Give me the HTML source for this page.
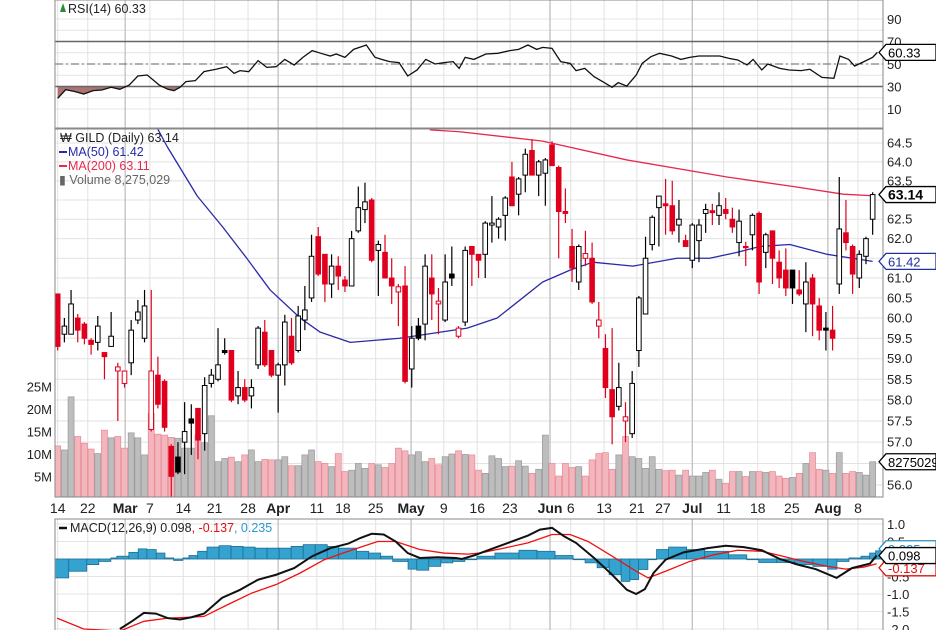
<!DOCTYPE html>
<html><head><meta charset="utf-8">
<style>
html,body{margin:0;padding:0;background:#fff;}
svg{display:block;font-family:"Liberation Sans",sans-serif;}
</style></head>
<body>
<svg id="chart" width="936" height="630" viewBox="0 0 936 630" xmlns="http://www.w3.org/2000/svg">
  <defs>
    <clipPath id="clipMain"><rect x="55" y="128" width="828" height="369"/></clipPath>
    <clipPath id="clipRsi"><rect x="55" y="0" width="828" height="129"/></clipPath>
    <clipPath id="clipMacd"><rect x="55" y="519" width="828" height="111"/></clipPath>
  </defs>
  <rect x="0" y="0" width="936" height="630" fill="#fff"/>
  <g id="grid"></g>
  <g id="rsi" clip-path="url(#clipRsi)"></g>
  <g id="vol" clip-path="url(#clipMain)"></g>
  <g id="ma" clip-path="url(#clipMain)"></g>
  <g id="candles" clip-path="url(#clipMain)"></g>
  <g id="macd" clip-path="url(#clipMacd)"></g>
  <g id="frame"></g>
  <g id="labels"></g>
</svg>
<script>
// ---------- data ----------
const opens=[60.6,59.6,59.6,60.0,59.85,59.45,59.4,59.15,59.3,58.7,58.4,58.9,59.95,59.5,57.3,58.6,58.45,56.9,56.65,57.0,57.55,57.8,57.2,58.4,58.5,59.2,59.2,58.1,58.3,58.1,58.85,59.65,59.2,58.6,58.85,59.55,59.2,59.95,60.5,62.05,61.6,60.85,61.3,60.95,60.8,62.2,62.75,63.0,61.7,61.65,61.0,60.65,60.8,58.75,59.8,59.85,61.0,60.35,59.95,61.1,59.55,59.9,61.8,61.6,61.6,62.35,62.3,62.6,63.6,63.15,63.65,64.3,63.65,63.7,64.45,63.85,62.7,61.8,60.9,61.5,61.5,59.8,59.25,58.25,57.85,57.5,57.2,59.2,60.1,61.85,62.8,62.9,62.85,62.35,61.95,61.45,61.95,62.65,62.72,62.6,62.75,62.5,61.9,61.8,62.1,62.65,61.65,62.2,61.4,61.2,61.2,60.7,60.35,61.0,60.3,59.75,59.7,60.85,62.15,61.8,61.0,61.55,62.5];
const highs=[60.6,60.0,60.7,60.1,59.9,59.5,60.05,59.15,60.15,58.9,58.7,59.95,60.45,60.7,60.7,59.05,58.5,56.95,57.0,57.95,57.9,57.8,58.55,58.75,59.75,59.5,59.2,58.7,58.5,58.5,59.8,59.95,59.2,58.9,60.08,60.0,60.3,60.8,62.1,62.3,61.6,61.6,61.55,61.05,62.2,63.35,63.45,63.05,61.95,62.1,61.5,60.85,61.3,59.8,60.0,61.6,61.6,60.75,61.6,61.8,59.8,61.8,61.8,61.6,62.45,63.1,62.55,63.1,64.0,63.6,64.35,64.6,64.05,64.1,64.55,63.9,63.3,62.25,61.85,62.2,61.9,60.4,59.6,59.75,58.9,57.95,58.7,60.55,62.05,62.6,63.1,63.55,63.5,63.0,62.1,62.4,62.5,62.9,62.9,63.2,63.05,62.8,62.75,61.92,62.65,62.7,62.15,62.2,61.7,61.75,61.2,61.2,61.4,61.1,60.5,60.15,60.3,63.6,63.0,61.85,61.7,62.05,63.2];
const lows=[59.2,59.4,59.6,59.4,59.35,59.1,59.2,58.5,59.3,57.5,58.3,58.6,59.85,59.4,57.25,57.8,57.25,55.6,56.25,56.25,56.7,56.6,56.8,58.3,58.45,59.1,57.95,57.9,57.95,57.8,58.75,58.8,58.55,57.7,58.35,58.85,59.15,59.7,60.4,61.05,60.4,60.5,60.7,60.65,60.8,62.15,62.4,61.4,60.55,61.0,60.35,59.8,58.4,58.3,59.45,59.45,59.95,59.6,59.9,60.8,59.5,59.8,60.8,61.0,61.0,61.9,62.0,61.95,62.85,62.6,63.2,63.65,63.1,62.85,63.9,61.5,62.4,60.9,60.7,61.3,60.35,59.5,58.05,56.95,57.75,57.0,57.1,58.8,60.1,61.7,61.8,62.1,62.1,61.9,61.8,61.25,61.4,62.15,62.35,62.35,62.5,62.15,61.55,61.3,61.7,60.6,61.25,60.85,60.75,60.55,60.35,60.55,59.65,59.55,59.45,59.2,59.2,60.6,61.7,60.6,60.75,61.35,62.1];
const closes=[59.3,59.8,60.35,59.7,59.5,59.35,59.8,59.05,59.55,58.8,58.7,59.7,60.15,60.3,58.7,57.9,57.35,56.2,56.3,57.25,57.45,57.05,58.35,58.6,58.85,59.15,58.0,58.3,58.0,58.3,59.75,58.85,58.6,58.85,59.9,58.9,60.05,60.2,61.55,61.1,60.85,61.3,61.05,60.8,62.0,62.8,62.95,61.45,61.85,61.0,60.8,60.78,58.45,59.5,59.5,61.3,60.6,60.42,60.9,61.0,59.75,61.7,61.6,61.45,62.4,62.4,62.5,63.05,62.85,63.55,64.2,63.65,64.0,64.05,63.9,62.7,62.65,61.25,61.8,61.62,60.4,59.95,58.3,57.6,58.3,57.6,58.4,60.5,61.5,62.55,63.1,62.85,62.2,62.5,61.8,62.35,62.35,62.75,62.67,62.85,62.65,62.3,62.45,61.78,62.6,60.9,62.1,61.5,61.0,60.75,60.75,60.6,60.9,60.35,59.7,59.7,59.5,62.25,61.9,61.1,61.6,62.0,63.14];
const volumes=[11.8,10.9,22.7,13.9,12.4,11.1,10.1,15.3,13.6,13.9,11.3,14.7,13.6,9.8,19.0,14.4,14.2,13.7,13.5,11.3,11.3,14.2,12.5,18.5,8.3,9.0,9.3,8.3,9.8,10.9,8.3,8.8,8.7,8.7,9.4,7.4,7.4,9.8,10.9,8.3,7.9,7.2,10.1,6.1,6.4,7.9,6.8,7.9,7.6,7.0,7.9,11.3,10.7,9.8,10.5,8.3,9.0,7.6,9.4,10.0,10.7,9.9,9.8,6.4,5.7,9.6,9.0,7.2,7.3,8.5,7.3,5.7,6.6,14.2,7.9,5.1,7.9,7.0,7.2,5.1,8.7,10.1,10.3,6.6,9.8,13.9,9.4,9.0,6.8,9.4,6.6,6.3,6.4,5.3,6.4,5.1,5.1,5.9,6.4,4.4,3.5,6.1,6.1,5.0,6.1,6.1,5.9,6.1,5.1,4.6,4.8,5.7,7.9,10.3,6.6,6.4,5.7,10.3,5.7,6.1,5.9,5.3,8.275];
const ma50Idx=[14.6,16.4,20.9,24.7,28.3,31.8,36.3,39.3,43.8,51.2,61.3,65.8,72.6,76.7,80.1,86.1,92.7,97.6,101.7,105.1,109.6,115.2,122];
const ma50Val=[65.0,64.4,63.1,62.3,61.5,60.7,60.0,59.65,59.4,59.5,59.75,60.0,60.9,61.2,61.4,61.3,61.5,61.5,61.65,61.8,61.85,61.6,61.42];
const ma200Idx=[55.7,60.2,72.6,85.2,100.2,110.1,117.6,122];
const ma200Val=[64.85,64.8,64.55,64.05,63.6,63.35,63.15,63.11];
const rsiIdx=[0,1.2,2.6,3.9,5.3,6.6,8.0,9.3,10.7,12.0,13.4,14.3,15.2,16.5,17.4,18.3,19.2,20.6,21.9,23.7,25.3,26.4,27.3,28.6,30.0,31.3,32.7,34.0,35.4,36.7,38.1,39.4,40.8,41.7,43.0,44.3,46.2,47.5,48.8,49.7,51.1,52.4,53.8,55.1,56.5,57.8,59.2,60.1,61.0,62.3,64.1,65.9,67.7,69.0,70.4,71.7,72.6,74.0,75.3,76.7,77.6,78.9,80.3,81.6,83.0,83.9,85.2,86.6,87.5,88.8,90.1,91.9,93.3,94.6,96.0,97.3,99.1,100.5,101.8,103.2,104.1,105.4,106.3,108.1,109.5,111.3,112.6,114.4,116.2,117.1,118.4,119.3,120.7,122.0,122.7];
const rsiVal=[19.5,27.2,25.4,23.3,26.3,26.9,29.3,27.5,31.3,39.3,40.2,35.8,31.3,27.5,26.3,29.3,34.3,35.2,43.2,45.3,47.6,41.7,44.1,43.2,53.0,47.0,47.6,54.1,49.1,55.9,61.9,59.5,57.1,58.9,55.9,63.0,66.9,55.9,53.6,52.1,51.2,39.3,44.7,54.1,50.0,51.2,52.1,46.1,55.9,54.1,58.9,59.5,61.9,63.0,66.9,63.0,64.8,63.9,52.1,50.6,44.1,46.1,38.7,34.3,29.3,33.4,30.4,40.2,50.6,56.5,59.5,57.1,54.1,55.9,57.1,57.1,57.1,55.0,53.6,49.1,54.1,44.7,50.0,46.1,44.7,44.1,45.3,38.1,37.3,57.1,54.1,48.2,52.1,55.9,60.33];
const macdIdx=[9.3,11.1,12.9,14.7,16.5,18.3,20.1,21.9,24.6,27.3,30.0,32.7,35.4,38.1,40.8,43.5,45.3,47.0,48.8,50.6,52.4,54.2,56.9,59.6,60.5,62.3,65.0,67.7,70.4,72.2,74.0,75.8,77.6,80.3,83.0,85.2,86.6,87.9,89.2,91.0,93.7,97.3,100.0,102.7,105.4,108.1,110.8,113.5,116.6,118.9,121.6,122.6];
const macdVal=[-2.0,-1.78,-1.54,-1.56,-1.69,-1.73,-1.66,-1.56,-1.11,-0.88,-0.59,-0.45,-0.26,0.08,0.31,0.44,0.60,0.72,0.70,0.50,0.17,0.03,0.05,0.03,0.0,0.10,0.29,0.48,0.67,0.84,0.89,0.65,0.46,0.03,-0.45,-0.88,-1.0,-0.86,-0.40,-0.02,0.19,0.31,0.38,0.34,0.25,0.0,-0.16,-0.29,-0.54,-0.26,-0.13,0.098];
const sigIdx=[-0.1,3.9,9.3,12.9,16.5,20.1,21.9,25.5,29.1,32.7,36.3,39.9,43.5,47.9,50.6,54.2,57.8,61.4,63.2,66.8,70.4,74.0,76.7,79.4,83.0,86.6,88.4,91.0,94.6,98.2,101.8,105.4,108.1,111.7,115.3,118.0,120.7,122.6];
const sigVal=[-1.69,-2.0,-2.06,-1.78,-1.69,-1.66,-1.64,-1.30,-0.97,-0.73,-0.40,-0.02,0.22,0.50,0.50,0.27,0.17,0.14,0.17,0.31,0.46,0.70,0.70,0.50,0.08,-0.35,-0.54,-0.35,-0.07,0.12,0.25,0.22,0.10,-0.07,-0.21,-0.29,-0.23,-0.137];
const histIdx=[-0.1,2.1,4.8,6.6,8.4,9.3,11.1,12.5,13.8,15.2,16.5,17.8,19.2,20.1,21.4,22.8,24.6,26.4,28.2,30.0,31.8,33.6,35.4,37.2,39.0,40.8,42.5,45.2,47.0,48.8,50.6,52.9,54.2,56.0,57.8,59.6,61.4,63.2,65.9,69.5,72.2,74.9,77.6,79.4,81.2,83.0,84.8,86.1,87.4,88.8,90.1,91.9,94.6,97.3,100.9,103.6,105.4,108.1,110.8,113.5,115.7,117.1,118.9,120.7,122.0,122.9];
const histVal=[-0.54,-0.35,-0.16,-0.07,0.03,0.08,0.19,0.29,0.27,0.17,0.03,-0.04,0.03,0.10,0.22,0.34,0.38,0.36,0.34,0.31,0.31,0.31,0.36,0.41,0.41,0.36,0.31,0.22,0.17,0.08,-0.07,-0.29,-0.32,-0.21,-0.11,-0.07,-0.02,0.08,0.17,0.25,0.22,0.10,-0.02,-0.11,-0.25,-0.45,-0.64,-0.59,-0.30,-0.02,0.27,0.34,0.27,0.22,0.12,-0.02,-0.10,-0.10,-0.16,-0.21,-0.29,-0.07,0.03,0.08,0.17,0.235];
const dateLabels=["14","22","Mar","7","14","21","28","Apr","11","18","25","May","9","16","23","Jun","6","13","21","27","Jul","11","18","25","Aug","8"];
const dateIdx=[0,4.5,10.1,13.8,18.8,23.5,28.5,33.0,38.8,42.7,47.6,52.9,57.8,62.8,67.7,73.7,76.8,81.8,86.7,90.6,95.0,99.7,104.8,109.9,115.3,119.8];
const priceTicks=[64.5,64.0,63.5,62.5,62.0,61.0,60.5,60.0,59.5,59.0,58.5,58.0,57.5,57.0,56.0];
const volTicks=[25,20,15,10,5];
const rsiTicks=[90,70,50,30,10];
const macdTicks=[1.0,0.5,-0.5,-1.0,-1.5,-2.0];

// ---------- scales ----------
const NS="http://www.w3.org/2000/svg";
const X0=57.7, DX=6.68, PL=55, PR=883;
function xOf(i){return X0+i*DX;}
function yPrice(p){return 143+2420*(Math.log(64.5)-Math.log(p));}
function yVol(v){return 499-v*4.5;}
function yRsi(r){return 64-(r-50)*1.125;}
function yMacd(m){return 559-m*35;}
function mk(tag,attrs,parent){const e=document.createElementNS(NS,tag);for(const k in attrs)e.setAttribute(k,attrs[k]);if(parent)parent.appendChild(e);return e;}
const G=id=>document.getElementById(id);

// ---------- grid ----------
const grid=G('grid');
for(let r=10;r<=90;r+=10){const l=mk('line',{x1:PL,x2:PR,y1:yRsi(r),y2:yRsi(r),stroke:'#e4e4e4','stroke-width':1},grid);

}
for(let p=56;p<=64.5;p+=0.5){const l=mk('line',{x1:PL,x2:PR,y1:yPrice(p),y2:yPrice(p),stroke:'#e2e2e2','stroke-width':1},grid);

}
for(let m=-2;m<=1;m+=0.5){const l=mk('line',{x1:PL,x2:PR,y1:yMacd(m),y2:yMacd(m),stroke:'#e4e4e4','stroke-width':1},grid);

}
dateIdx.forEach((d,k)=>{const month=/[A-Za-z]/.test(dateLabels[k]);const x=xOf(d);
 [[0,129],[128,497],[519,630]].forEach(s=>{const l=mk('line',{x1:x,x2:x,y1:s[0],y2:s[1],stroke:month?'#c4c4c4':'#e2e2e2','stroke-width':month?1.4:1},grid);
 
 });});

// ---------- RSI ----------
const rsiG=G('rsi');
let fillPts=[];
rsiIdx.forEach((i,k)=>{if(rsiVal[k]<30||(k>0&&rsiVal[k-1]<30)){fillPts.push([xOf(i),yRsi(Math.min(rsiVal[k],30))]);}});
const rsiFill=mk('polygon',{points:`${xOf(rsiIdx[0])},${yRsi(30)} `+rsiIdx.filter((i,k)=>i<19.5).map((i,k)=>`${xOf(i)},${yRsi(Math.min(rsiVal[k],30))}`).join(' ')+` ${xOf(19.2)},${yRsi(30)}`,fill:'#9e5a5a',opacity:0.85},rsiG);


[[70,'solid'],[30,'solid']].forEach(a=>{const l=mk('line',{x1:PL,x2:PR,y1:yRsi(a[0]),y2:yRsi(a[0]),stroke:'#666','stroke-width':1.5},rsiG);

});
const mid=mk('line',{x1:PL,x2:PR,y1:yRsi(50),y2:yRsi(50),stroke:'#666','stroke-width':1,'stroke-dasharray':'8,3,2,3'},rsiG);


const rsiLine=mk('polyline',{points:rsiIdx.map((i,k)=>`${xOf(i)},${yRsi(rsiVal[k])}`).join(' '),fill:'none',stroke:'#111','stroke-width':1.3},rsiG);



// ---------- volume ----------
const volG=G('vol');
const isRed=i=> i===0 ? true : closes[i]<closes[i-1];
volumes.forEach((v,i)=>{const r=isRed(i);const b=mk('rect',{x:xOf(i)-3,y:yVol(v),width:6,height:499-yVol(v),fill:r?'#f4b6bd':'#bdbdbd',stroke:r?'#e58a96':'#9a9a9a','stroke-width':0.7},volG);

});

// ---------- moving averages ----------
const maG=G('ma');
const m50=mk('polyline',{points:ma50Idx.map((i,k)=>`${xOf(i)},${yPrice(ma50Val[k])}`).join(' '),fill:'none',stroke:'#2a2aa8','stroke-width':1.3,'stroke-linejoin':'round'},maG);


const m200=mk('polyline',{points:ma200Idx.map((i,k)=>`${xOf(i)},${yPrice(ma200Val[k])}`).join(' '),fill:'none',stroke:'#e8284a','stroke-width':1.3,'stroke-linejoin':'round'},maG);



// ---------- candles ----------
const cG=G('candles');
closes.forEach((c,i)=>{const o=opens[i];const col=isRed(i)?'#e0001e':'#000';const x=xOf(i);
 const w=mk('line',{x1:x,x2:x,y1:yPrice(highs[i]),y2:yPrice(lows[i]),stroke:col,'stroke-width':1.2},cG);
 
 
 const top=yPrice(Math.max(o,c)),bot=yPrice(Math.min(o,c));
 const filled=c<o;
 const b=mk('rect',{x:x-2.3,y:top,width:4.6,height:Math.max(1.2,bot-top),fill:filled?col:'#fff',stroke:col,'stroke-width':1},cG);
 
 });

// ---------- MACD ----------
const mG=G('macd');
histIdx.forEach((i,k)=>{const next=k<histIdx.length-1?histIdx[k+1]:i+0.9;const v=histVal[k];
 const x1=xOf(i)-3,x2=xOf(next)-3;const y=yMacd(Math.max(v,0)),h=Math.abs(yMacd(v)-yMacd(0));
 const b=mk('rect',{x:x1,y:y,width:Math.max(1,x2-x1),height:Math.max(0.5,h),fill:'#35a3d0',stroke:'#1d6f93','stroke-width':0.8},mG);
 
 });
const sg=mk('polyline',{points:sigIdx.map((i,k)=>`${xOf(i)},${yMacd(sigVal[k])}`).join(' '),fill:'none',stroke:'#f01010','stroke-width':1.3},mG);


const ml=mk('polyline',{points:macdIdx.map((i,k)=>`${xOf(i)},${yMacd(macdVal[k])}`).join(' '),fill:'none',stroke:'#111','stroke-width':2},mG);



// ---------- frame ----------
const fr=G('frame');
[[PL,0,PR-PL,129],[PL,128,PR-PL,369],[PL,519,PR-PL,120]].forEach((r,k)=>{const e=mk('rect',{x:r[0],y:r[1],width:r[2],height:r[3],fill:'none',stroke:'#888','stroke-width':1},fr);

});

// ---------- labels ----------
const L=G('labels');
function txt(x,y,s,opt){const t=mk('text',Object.assign({x:x,y:y,'font-size':12,fill:'#222'},opt||{}),L);t.textContent=s;return t;}
priceTicks.forEach(p=>{const t=txt(887,yPrice(p)+4.5,p.toFixed(1),{'font-size':13});

});
volTicks.forEach(v=>{const t=txt(52,yVol(v)+5,v+'M',{'font-size':13,'text-anchor':'end'});

});
rsiTicks.forEach(r=>{const t=txt(887,yRsi(r)+5,String(r),{'font-size':13});

});
macdTicks.forEach(m=>{const t=txt(887,yMacd(m)+5,m.toFixed(1),{'font-size':13});

});
dateLabels.forEach((s,k)=>{const month=/[A-Za-z]/.test(s);const t=txt(xOf(dateIdx[k]),513,s,{'font-size':14,'text-anchor':'middle','font-weight':month?'bold':'normal'});

});

function tag(y,s,col,bold,name){const g=mk('g',{},L);
 
 
 mk('polygon',{points:`${PR-4},${y} ${PR+3},${y-8} 936,${y-8} 936,${y+8} ${PR+3},${y+8}`,fill:'#fff',stroke:col,'stroke-width':1.3},g);
 const t=mk('text',{x:PR+5,y:y+5,'font-size':bold?14:13,'font-weight':bold?'bold':'normal',fill:col},g);t.textContent=s;}
tag(yMacd(0.235)-2,'0.235','#2a8fc0',false,'macd-hist-value-tag');
tag(yMacd(-0.137)+4,'-0.137','#e01010',false,'macd-signal-value-tag');
tag(yMacd(0.098),'0.098','#000',false,'macd-value-tag');
tag(yRsi(60.33),'60.33','#000',false,'rsi-value-tag');
tag(yPrice(63.14),'63.14','#000',true,'price-value-tag');
tag(yPrice(61.42),'61.42','#2030a0',false,'ma50-value-tag');
tag(yVol(8.275),'8275029','#000',false,'volume-value-tag');

// legends
function legend(x,y,parts,name){const t=mk('text',{x:x,y:y,'font-size':12.5},L);
 
 
 parts.forEach(p=>{const s=mk('tspan',{fill:p[1]},t);s.textContent=p[0];});}
const ri=mk('polygon',{points:'60,12 63,3 66,12',fill:'#2e8b3a'},L);


legend(68,13,[['RSI(14) 60.33','#222']],'rsi-legend');
legend(60,142,[['₩ GILD (Daily) 63.14','#222']],'price-legend');
const lb=mk('line',{x1:59,x2:67,y1:152,y2:152,stroke:'#2a2aa8','stroke-width':2},L);


legend(68,156,[['MA(50) 61.42','#2a2aa8']],'ma50-legend');
const lr=mk('line',{x1:59,x2:67,y1:166,y2:166,stroke:'#e8284a','stroke-width':2},L);


legend(68,170,[['MA(200) 63.11','#e8284a']],'ma200-legend');
legend(59,184,[['▮ Volume 8,275,029','#666']],'volume-legend');
const mlg=mk('line',{x1:59,x2:67,y1:528,y2:528,stroke:'#111','stroke-width':2.5},L);


legend(70,532,[['MACD(12,26,9) 0.098','#222'],[', -0.137','#e01010'],[', 0.235','#2a9ad0']],'macd-legend');
</script>
</body></html>
